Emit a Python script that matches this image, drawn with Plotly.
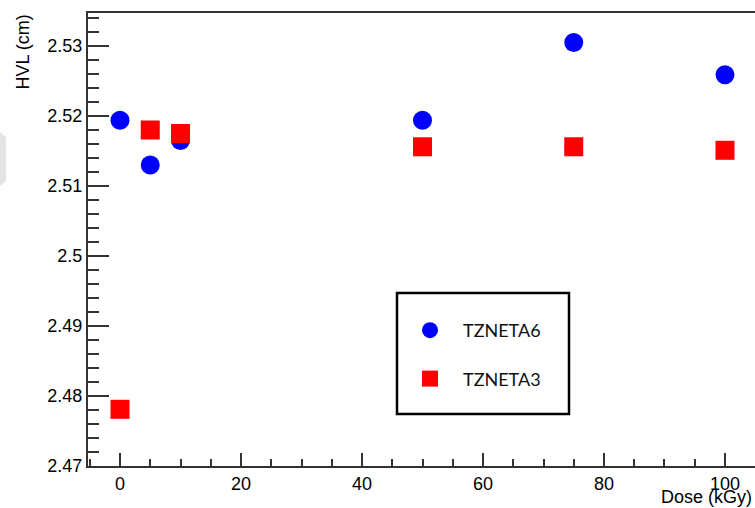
import plotly.graph_objects as go

# Data
dose = [0, 5, 10, 50, 75, 100]
hvl_tzneta6 = [2.5194, 2.5130, 2.5165, 2.5194, 2.5305, 2.5259]
hvl_tzneta3 = [2.4781, 2.5180, 2.5175, 2.5156, 2.5156, 2.5151]
series_names = ["TZNETA6", "TZNETA3"]

W, H = 755, 508
L, R, T, B = 88, 0, 13, 42
pw, ph = W - L - R, H - T - B


def px2paper_x(px):
    return (px - L) / pw


def px2paper_y(py):
    return (H - B - py) / ph


fig = go.Figure()
fig.add_trace(go.Scatter(
    x=dose, y=hvl_tzneta6, mode="markers", name=series_names[0],
    legendgroup="a",
    marker=dict(symbol="circle", size=19, color="#0000ff", line=dict(width=0)),
))
fig.add_trace(go.Scatter(
    x=dose, y=hvl_tzneta3, mode="markers", name=series_names[1],
    legendgroup="b",
    marker=dict(symbol="square", size=19, color="#ff0000", line=dict(width=0)),
))

axis_font = dict(family="Liberation Sans, Arial, sans-serif", size=18, color="#000")
line_col = "#333333"

fig.update_xaxes(
    range=[-5.29, 104.96], showgrid=False, zeroline=False,
    showline=True, linecolor=line_col, linewidth=2, mirror=True,
    ticks="inside", ticklen=13, tickwidth=1.5, tickcolor=line_col,
    tick0=0, dtick=20, tickfont=axis_font,
    minor=dict(ticks="inside", ticklen=7, tickwidth=1.5, tickcolor=line_col, dtick=5, tick0=0, showgrid=False),
)
fig.update_yaxes(
    range=[2.47, 2.53471], showgrid=False, zeroline=False,
    showline=True, linecolor=line_col, linewidth=2, mirror=False,
    ticks="inside", ticklen=21, tickwidth=1.5, tickcolor=line_col,
    tick0=2.47, dtick=0.01, tickfont=axis_font, tickformat="~g",
    minor=dict(ticks="inside", ticklen=11, tickwidth=1.5, tickcolor=line_col, dtick=0.002, tick0=2.47, showgrid=False),
)

shapes = [
    # legend frame
    dict(type="rect", xref="paper", yref="paper",
         x0=px2paper_x(397), x1=px2paper_x(569), y0=px2paper_y(414), y1=px2paper_y(293),
         line=dict(color="#000", width=2.5), fillcolor="rgba(0,0,0,0)", layer="above"),
    # light gray artifact on the left edge
    dict(type="path", xref="paper", yref="paper",
         path=f"M {px2paper_x(0)},{px2paper_y(132)} L {px2paper_x(6)},{px2paper_y(137)} "
              f"L {px2paper_x(6)},{px2paper_y(181)} L {px2paper_x(0)},{px2paper_y(186)} Z",
         line=dict(width=0), fillcolor="#e3e3e3"),
]

annotations = [
    dict(text="HVL (cm)", xref="paper", yref="paper", x=px2paper_x(22), y=1.0,
         xanchor="center", yanchor="top", textangle=-90, showarrow=False,
         font=axis_font),
    dict(text="Dose (kGy)", xref="paper", yref="paper", x=px2paper_x(754), y=px2paper_y(496.5),
         xanchor="right", yanchor="middle", showarrow=False, font=axis_font),
]

fig.update_layout(
    width=W, height=H,
    margin=dict(l=L, r=R, t=T, b=B, pad=0),
    paper_bgcolor="white", plot_bgcolor="white",
    showlegend=True,
    legend=dict(
        x=px2paper_x(397), y=px2paper_y(312), xanchor="left", yanchor="top",
        bgcolor="rgba(0,0,0,0)", borderwidth=0,
        font=dict(family="Lato, Carlito, sans-serif", size=18, color="#111"),
        itemwidth=56, tracegroupgap=22,
    ),
    shapes=shapes, annotations=annotations,
)

fig.write_html(
    "out.html",
    config={"displayModeBar": False},
    post_script="document.body.style.margin='0';document.body.style.padding='0';document.body.style.overflow='hidden';",
)
